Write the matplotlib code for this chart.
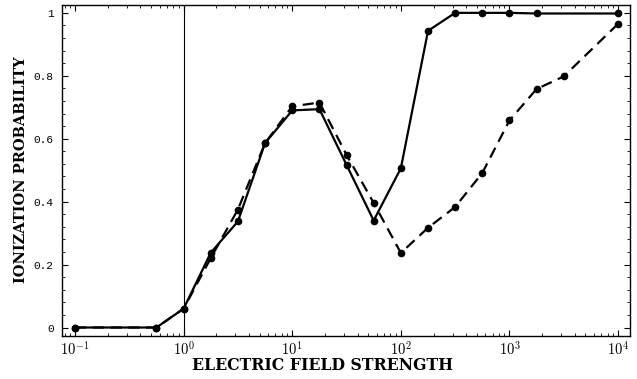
import matplotlib
matplotlib.use("Agg")
import matplotlib.pyplot as plt
from matplotlib.ticker import LogLocator, NullFormatter, MultipleLocator
import numpy as np

plt.rcParams["mathtext.fontset"] = "cm"

# Data
field_solid = [0.1, 0.562, 1.0, 1.78, 3.16, 5.62, 10, 17.8, 31.6, 56.2, 100, 178, 316, 562, 1000, 1778, 10000]
prob_solid = [0.0, 0.0, 0.06, 0.238, 0.337, 0.586, 0.69, 0.694, 0.517, 0.34, 0.506, 0.943, 1.0, 1.0, 1.0, 0.998, 0.998]

field_dashed = [0.1, 0.562, 1.0, 1.78, 3.16, 5.62, 10, 17.8, 31.6, 56.2, 100, 178, 316, 562, 1000, 1778, 3162, 10000]
prob_dashed = [0.0, 0.0, 0.06, 0.221, 0.375, 0.586, 0.703, 0.715, 0.549, 0.396, 0.237, 0.317, 0.383, 0.491, 0.658, 0.758, 0.798, 0.965]

y_ticks = [0, 0.2, 0.4, 0.6, 0.8, 1.0]
y_tick_labels = ["0", "0.2", "0.4", "0.6", "0.8", "1"]
x_ticks = [0.1, 1, 10, 100, 1000, 10000]
x_tick_labels = [r"$10^{-1}$", r"$10^{0}$", r"$10^{1}$", r"$10^{2}$", r"$10^{3}$", r"$10^{4}$"]

fig = plt.figure(figsize=(6.37, 3.79), dpi=100)
ax = fig.add_axes([62/637, 1-336/379, (630-62)/637, (336-5)/379])

ax.plot(field_solid, prob_solid, color="black", lw=1.6, marker="o", ms=4.5)
ax.plot(field_dashed, prob_dashed, color="black", lw=1.6, ls=(0, (5, 3)), marker="o", ms=4.5)
ax.axvline(1.0, color="black", lw=0.8)

ax.set_xscale("log")
ax.set_xlim(10**-1.12, 10**4.11)
ax.set_ylim(-0.027, 1.025)

ax.set_xticks(x_ticks)
ax.set_xticklabels(x_tick_labels, fontsize=10.5)
ax.xaxis.set_minor_locator(LogLocator(base=10, subs=np.arange(2, 10)))
ax.xaxis.set_minor_formatter(NullFormatter())
ax.set_yticks(y_ticks)
ax.set_yticklabels(y_tick_labels, fontfamily="Liberation Mono", fontsize=8)
ax.yaxis.set_minor_locator(MultipleLocator(0.04))

ax.tick_params(which="both", direction="in", top=True, right=True)
ax.tick_params(which="major", length=4, width=0.8)
ax.tick_params(which="minor", length=2, width=0.6)
ax.tick_params(axis="x", pad=3)
ax.tick_params(axis="y", pad=6)

for s in ax.spines.values():
    s.set_linewidth(1.0)

ax.set_xlabel("ELECTRIC FIELD STRENGTH", fontfamily="DejaVu Serif", fontweight="bold", fontsize=11.3)
ax.xaxis.label.set_verticalalignment("center")
ax.xaxis.set_label_coords((322-62)/568, -(365-336)/331)
ax.set_ylabel("IONIZATION PROBABILITY", fontfamily="DejaVu Serif", fontweight="bold", fontsize=10.5)
ax.yaxis.label.set_verticalalignment("center")
ax.yaxis.set_label_coords(-(62-21)/568, (336-170)/331)

fig.savefig("out.png", dpi=100)
